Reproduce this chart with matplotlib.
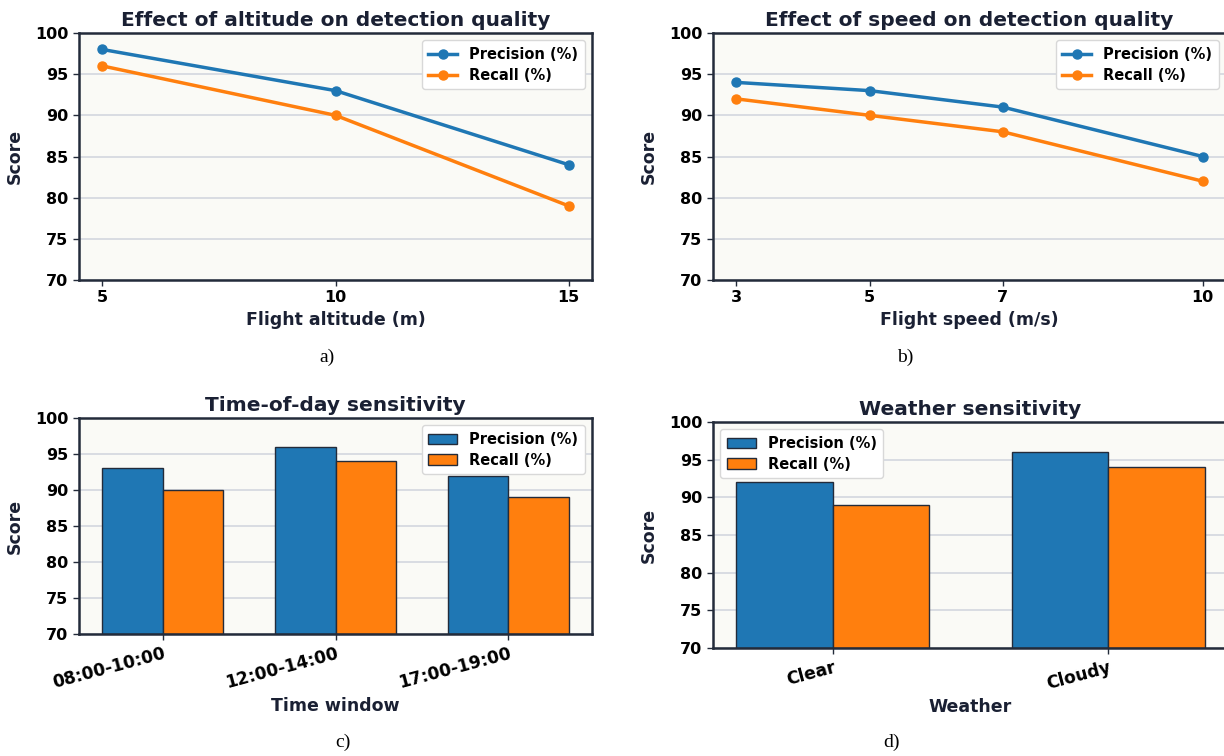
import matplotlib
matplotlib.use("Agg")
import matplotlib.pyplot as plt
import numpy as np

plt.rcParams['font.family'] = ['DejaVu Sans']
plt.rcParams['font.weight'] = 'bold'

# ---- data ----
altitude = [5, 10, 15]
alt_precision = [98, 93, 84]
alt_recall = [96, 90, 79]

speed = [3, 5, 7, 10]
spd_precision = [94, 93, 91, 85]
spd_recall = [92, 90, 88, 82]

time_windows = ["08:00-10:00", "12:00-14:00", "17:00-19:00"]
tod_precision = [93, 96, 92]
tod_recall = [90, 94, 89]

weather = ["Clear", "Cloudy"]
wx_precision = [92, 96]
wx_recall = [89, 94]

yticks = [70, 75, 80, 85, 90, 95, 100]

BLUE = "#1f77b4"
ORANGE = "#ff7f0e"
NAVY = "#1a2033"
SPINE = "#232b3a"
GRID = "#d3d6de"
FACE = "#fafaf6"

W, H = 1224, 756
fig = plt.figure(figsize=(W / 100, H / 100), dpi=100)


def px_axes(left, top, right, bottom):
    return fig.add_axes([left / W, 1 - bottom / H, (right - left) / W, (bottom - top) / H])


def style(ax, title, xlabel, xlabelpad=4):
    ax.set_facecolor(FACE)
    ax.set_ylim(70, 100)
    ax.set_yticks(yticks)
    ax.grid(axis='y', color=GRID, linewidth=1.2)
    ax.set_axisbelow(True)
    for s in ax.spines.values():
        s.set_color(SPINE)
        s.set_linewidth(1.8)
    ax.tick_params(axis='both', colors=SPINE, labelcolor='black', labelsize=11.5, length=4, width=1)
    for lab in ax.get_yticklabels() + ax.get_xticklabels():
        lab.set_fontweight('bold')
    ax.set_title(title, fontsize=14.5, fontweight='bold', color=NAVY, pad=5)
    ax.set_xlabel(xlabel, fontsize=12.5, fontweight='bold', color=NAVY, labelpad=xlabelpad)
    ax.set_ylabel("Score", fontsize=12.5, fontweight='bold', color=NAVY, labelpad=8)


def legend(ax, loc):
    leg = ax.legend(loc=loc, prop={'weight': 'bold', 'size': 10.5}, frameon=True,
                    fancybox=True, framealpha=1.0, edgecolor='#d8d8d8',
                    borderpad=0.45, handlelength=2.0, labelspacing=0.4)
    leg.get_frame().set_linewidth(1.0)


# a) altitude
ax1 = px_axes(79, 33, 592, 280)
ax1.plot(altitude, alt_precision, '-o', color=BLUE, lw=2.5, ms=6.5, label="Precision (%)")
ax1.plot(altitude, alt_recall, '-o', color=ORANGE, lw=2.5, ms=6.5, label="Recall (%)")
ax1.set_xticks(altitude)
style(ax1, "Effect of altitude on detection quality", "Flight altitude (m)")
legend(ax1, 'upper right')

# b) speed
ax2 = px_axes(713, 33, 1226, 280)
ax2.plot(speed, spd_precision, '-o', color=BLUE, lw=2.5, ms=6.5, label="Precision (%)")
ax2.plot(speed, spd_recall, '-o', color=ORANGE, lw=2.5, ms=6.5, label="Recall (%)")
ax2.set_xticks(speed)
style(ax2, "Effect of speed on detection quality", "Flight speed (m/s)")
legend(ax2, 'upper right')

bw = 0.35

# c) time of day
ax3 = px_axes(79, 418, 592, 634)
x = np.arange(len(time_windows))
ax3.bar(x - bw / 2, [p - 70 for p in tod_precision], bw, bottom=70, color=BLUE,
        edgecolor=SPINE, linewidth=1.0, label="Precision (%)")
ax3.bar(x + bw / 2, [r - 70 for r in tod_recall], bw, bottom=70, color=ORANGE,
        edgecolor=SPINE, linewidth=1.0, label="Recall (%)")
ax3.set_xticks(x)
ax3.set_xticklabels(time_windows, rotation=15, ha='right', rotation_mode='anchor')
style(ax3, "Time-of-day sensitivity", "Time window", xlabelpad=4)
ax3.tick_params(axis='x', labelsize=12.3)
legend(ax3, 'upper right')

# d) weather
ax4 = px_axes(713, 422, 1228, 648)
x2 = np.arange(len(weather))
ax4.bar(x2 - bw / 2, [p - 70 for p in wx_precision], bw, bottom=70, color=BLUE,
        edgecolor=SPINE, linewidth=1.0, label="Precision (%)")
ax4.bar(x2 + bw / 2, [r - 70 for r in wx_recall], bw, bottom=70, color=ORANGE,
        edgecolor=SPINE, linewidth=1.0, label="Recall (%)")
ax4.set_xticks(x2)
ax4.set_xticklabels(weather, rotation=15, ha='right', rotation_mode='anchor')
style(ax4, "Weather sensitivity", "Weather", xlabelpad=4)
ax4.tick_params(axis='x', labelsize=12.3)
legend(ax4, 'upper left')

# captions
cap_kw = dict(fontsize=14, family=['Liberation Serif', 'DejaVu Serif'], fontweight='normal',
              ha='center', va='center', color='black')
fig.text(327 / W, 1 - 357 / H, "a)", **cap_kw)
fig.text(905 / W, 1 - 357 / H, "b)", **cap_kw)
fig.text(343 / W, 1 - 742 / H, "c)", **cap_kw)
fig.text(892 / W, 1 - 742 / H, "d)", **cap_kw)

fig.savefig("out.png", dpi=100, facecolor='white')
